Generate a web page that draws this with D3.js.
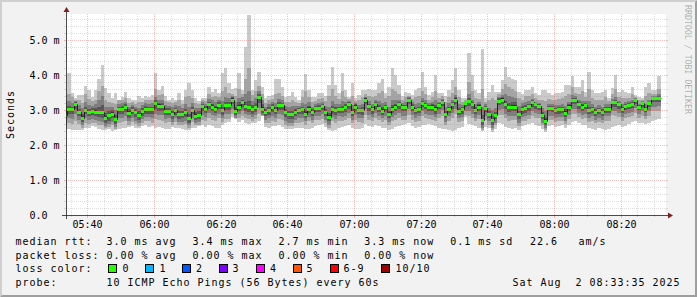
<!DOCTYPE html>
<html>
<head>
<meta charset="utf-8">
<script src="https://cdn.jsdelivr.net/npm/d3@7"></script>
<style>
html, body { margin: 0; padding: 0; background: #f2f2f2; }
svg { display: block; }
text { font-family: "DejaVu Sans Mono", monospace; fill: #000; }
</style>
</head>
<body>
<svg id="chart" width="697" height="297"></svg>
<script>
// median rtt per minute (ms), 05:33 .. 08:32
var med = [
2.86,3.02,3.02,3.16,2.93,2.78,3.00,2.94,2.98,2.95, 2.94,2.93,2.78,2.85,2.89,2.74,3.02,3.02,3.08,2.92,
3.00,2.93,2.85,2.97,3.03,3.03,3.02,3.20,3.12,3.12, 2.98,2.98,2.88,2.99,2.88,2.88,2.93,2.76,3.00,2.84,
2.86,3.11,3.04,3.16,3.10,3.04,3.15,2.99,3.14,3.14, 3.30,2.98,3.10,3.24,3.11,3.08,3.03,3.08,3.38,3.04,
2.95,3.00,3.08,3.00,3.13,3.13,2.94,2.88,2.88,2.95, 3.00,3.02,2.90,3.04,2.93,3.06,3.06,3.11,2.93,2.81,
3.03,3.00,3.03,3.04,3.08,3.16,2.94,3.10,3.00,3.00, 3.30,3.11,3.02,3.16,3.07,2.98,3.08,2.89,3.04,3.10,
3.16,3.08,3.08,3.29,3.10,3.00,3.03,3.21,3.14,3.10, 3.10,3.04,3.14,3.24,2.88,3.03,3.16,3.30,2.98,3.02,
3.19,3.26,3.16,3.00,3.10,2.71,3.07,2.89,2.71,2.85, 3.27,3.30,3.16,3.08,3.10,3.10,2.88,3.03,3.05,3.11,
3.22,3.16,3.12,2.85,2.69,3.07,3.07,3.00,3.02,3.04, 2.92,3.10,3.29,3.29,3.17,3.10,3.15,3.00,3.04,2.94,
3.00,2.94,3.04,3.04,3.22,3.22,3.16,3.04,3.12,3.15, 3.17,3.29,3.10,3.19,3.04,3.19,3.33,3.33,3.35,null];

// the 10 pings of each minute, sorted (p1 lowest .. p10 highest), ms
var p10 = [
3.43,4.07,3.48,3.33,3.43,3.43,3.69,3.57,3.38,3.57, 3.90,4.29,3.62,3.48,3.33,3.48,3.30,3.38,3.52,3.33,
3.30,3.29,3.40,3.33,3.40,3.36,3.43,4.05,3.57,3.69, 3.40,3.30,3.33,3.30,3.48,3.29,3.57,3.78,3.57,3.33,
3.27,3.33,3.33,3.67,3.52,3.60,3.48,4.05,4.19,3.76, 3.59,3.62,4.05,3.57,4.81,5.71,3.57,3.86,4.10,3.67,
3.33,3.40,3.43,3.90,3.90,3.65,3.36,3.40,3.52,3.36, 3.30,3.57,4.02,3.57,3.36,3.36,3.48,3.48,3.40,3.71,
4.24,3.71,3.50,4.05,3.57,3.38,3.76,3.33,3.43,3.57, 3.57,3.59,3.57,3.57,3.76,3.90,3.48,3.65,4.19,4.00,
3.71,3.40,3.52,3.48,3.43,3.57,3.62,4.10,3.67,3.43, 3.52,4.00,3.48,3.48,3.40,3.57,3.86,4.19,3.57,3.33,
3.33,4.62,4.00,3.57,3.48,4.73,3.33,3.52,3.71,3.52, 3.52,3.86,4.24,3.95,3.88,3.86,3.52,3.46,3.57,3.57,
3.67,3.48,3.43,3.57,3.57,3.48,3.43,3.48,3.48,3.52, 3.71,3.71,3.97,3.67,3.67,3.86,3.52,4.10,3.57,3.48,
3.48,3.52,3.57,3.33,3.62,4.00,3.52,3.57,3.52,3.48, 3.67,3.43,3.36,3.33,3.67,3.76,3.57,3.57,3.97,null];
var p9 = [
3.22,3.45,3.36,3.30,3.28,3.20,3.45,3.32,3.25,3.30, 3.55,3.70,3.30,3.22,3.20,3.18,3.28,3.30,3.34,3.20,
3.22,3.18,3.22,3.24,3.30,3.28,3.30,3.60,3.42,3.45, 3.26,3.22,3.20,3.22,3.30,3.18,3.36,3.40,3.35,3.20,
3.18,3.28,3.26,3.45,3.38,3.40,3.38,3.55,3.65,3.50, 3.45,3.40,3.60,3.45,3.90,4.20,3.42,3.55,3.70,3.45,
3.20,3.28,3.32,3.45,3.50,3.40,3.24,3.22,3.30,3.22, 3.20,3.38,3.55,3.38,3.22,3.25,3.32,3.35,3.26,3.40,
3.60,3.40,3.32,3.55,3.38,3.32,3.40,3.25,3.30,3.36, 3.45,3.40,3.36,3.40,3.50,3.55,3.35,3.40,3.60,3.55,
3.45,3.30,3.38,3.40,3.32,3.36,3.40,3.55,3.45,3.30, 3.36,3.55,3.35,3.40,3.22,3.36,3.50,3.65,3.36,3.24,
3.28,3.80,3.55,3.35,3.32,3.60,3.22,3.30,3.35,3.28, 3.45,3.60,3.75,3.65,3.60,3.55,3.35,3.30,3.40,3.40,
3.45,3.34,3.30,3.30,3.25,3.32,3.30,3.30,3.32,3.34, 3.40,3.45,3.65,3.50,3.45,3.55,3.38,3.60,3.35,3.28,
3.30,3.30,3.36,3.26,3.45,3.60,3.36,3.35,3.34,3.34, 3.45,3.38,3.28,3.30,3.40,3.50,3.45,3.45,3.60,null];
var p8 = [
3.08,3.25,3.20,3.26,3.15,3.05,3.22,3.15,3.12,3.16, 3.28,3.40,3.10,3.08,3.10,3.00,3.18,3.20,3.24,3.10,
3.14,3.08,3.06,3.15,3.20,3.18,3.20,3.38,3.28,3.30, 3.15,3.12,3.08,3.14,3.12,3.06,3.18,3.10,3.20,3.05,
3.06,3.22,3.18,3.32,3.28,3.24,3.30,3.25,3.38,3.35, 3.40,3.22,3.35,3.36,3.45,3.55,3.25,3.35,3.55,3.30,
3.10,3.16,3.22,3.20,3.32,3.28,3.12,3.08,3.12,3.12, 3.12,3.20,3.18,3.22,3.10,3.18,3.20,3.24,3.12,3.10,
3.25,3.18,3.16,3.25,3.24,3.26,3.15,3.20,3.14,3.18, 3.38,3.25,3.18,3.28,3.25,3.20,3.22,3.10,3.30,3.30,
3.30,3.20,3.22,3.36,3.22,3.16,3.20,3.35,3.28,3.20, 3.22,3.28,3.24,3.32,3.08,3.20,3.30,3.42,3.18,3.14,
3.24,3.45,3.30,3.16,3.22,3.10,3.16,3.06,3.00,3.05, 3.38,3.42,3.45,3.40,3.38,3.35,3.12,3.20,3.22,3.25,
3.32,3.24,3.20,3.05,2.98,3.18,3.18,3.14,3.15,3.16, 3.12,3.24,3.42,3.40,3.30,3.26,3.26,3.25,3.18,3.10,
3.14,3.08,3.18,3.16,3.32,3.36,3.26,3.18,3.22,3.26, 3.28,3.34,3.18,3.25,3.16,3.30,3.40,3.40,3.45,null];
var p7 = [
2.97,3.12,3.10,3.22,3.04,2.90,3.10,3.04,3.06,3.05, 3.08,3.15,2.92,2.98,3.00,2.86,3.10,3.12,3.16,3.02,
3.08,3.02,2.96,3.06,3.12,3.10,3.10,3.28,3.20,3.20, 3.06,3.05,2.97,3.07,2.98,2.96,3.04,2.88,3.10,2.94,
2.96,3.17,3.11,3.24,3.18,3.12,3.22,3.10,3.24,3.22, 3.36,3.10,3.22,3.30,3.24,3.25,3.14,3.20,3.46,3.16,
3.04,3.09,3.16,3.09,3.22,3.21,3.03,2.98,2.98,3.04, 3.07,3.10,3.00,3.12,3.02,3.12,3.13,3.18,3.02,2.92,
3.12,3.08,3.10,3.12,3.16,3.22,3.04,3.16,3.06,3.08, 3.35,3.18,3.10,3.22,3.14,3.08,3.15,2.98,3.14,3.18,
3.22,3.14,3.14,3.33,3.16,3.07,3.10,3.27,3.20,3.15, 3.16,3.13,3.19,3.29,2.97,3.10,3.23,3.36,3.06,3.08,
3.22,3.34,3.22,3.08,3.16,2.86,3.12,2.96,2.82,2.94, 3.33,3.37,3.26,3.20,3.22,3.22,2.98,3.12,3.14,3.18,
3.28,3.20,3.16,2.94,2.80,3.12,3.12,3.06,3.08,3.10, 3.02,3.16,3.35,3.34,3.22,3.16,3.20,3.10,3.10,3.02,
3.07,3.02,3.10,3.10,3.27,3.28,3.21,3.10,3.17,3.20, 3.22,3.32,3.14,3.22,3.09,3.24,3.37,3.37,3.40,null];
var p6 = [
2.90,3.06,3.05,3.19,2.97,2.82,3.04,2.98,3.01,2.99, 2.98,2.98,2.82,2.89,2.93,2.78,3.06,3.06,3.12,2.96,
3.04,2.97,2.89,3.01,3.07,3.06,3.05,3.24,3.16,3.15, 3.01,3.01,2.92,3.03,2.92,2.92,2.97,2.80,3.04,2.88,
2.90,3.14,3.07,3.19,3.13,3.08,3.18,3.03,3.18,3.18, 3.33,3.02,3.14,3.27,3.15,3.12,3.07,3.12,3.41,3.08,
2.98,3.04,3.12,3.04,3.17,3.17,2.98,2.92,2.92,2.99, 3.03,3.05,2.94,3.08,2.96,3.09,3.09,3.14,2.96,2.85,
3.07,3.04,3.06,3.07,3.12,3.19,2.98,3.13,3.03,3.04, 3.33,3.14,3.05,3.19,3.10,3.02,3.11,2.93,3.08,3.13,
3.19,3.11,3.11,3.31,3.12,3.03,3.06,3.24,3.17,3.12, 3.13,3.08,3.17,3.27,2.91,3.06,3.19,3.33,3.01,3.05,
3.21,3.29,3.19,3.03,3.13,2.75,3.10,2.92,2.75,2.88, 3.30,3.33,3.19,3.12,3.14,3.14,2.92,3.07,3.09,3.15,
3.25,3.19,3.15,2.88,2.73,3.10,3.10,3.03,3.05,3.07, 2.96,3.13,3.32,3.32,3.20,3.13,3.17,3.04,3.07,2.97,
3.03,2.97,3.07,3.07,3.25,3.25,3.19,3.07,3.15,3.18, 3.20,3.31,3.12,3.21,3.06,3.21,3.35,3.35,3.37,null];
var p5 = [
2.83,2.99,2.99,3.13,2.90,2.75,2.97,2.91,2.95,2.92, 2.90,2.89,2.74,2.81,2.85,2.70,2.98,2.98,3.04,2.88,
2.96,2.89,2.81,2.93,2.99,2.99,2.98,3.16,3.08,3.08, 2.95,2.95,2.84,2.95,2.84,2.84,2.89,2.72,2.96,2.80,
2.82,3.08,3.01,3.13,3.07,3.00,3.12,2.95,3.10,3.10, 3.27,2.94,3.06,3.21,3.07,3.04,2.99,3.04,3.35,3.00,
2.92,2.96,3.04,2.96,3.09,3.09,2.90,2.84,2.84,2.91, 2.97,2.99,2.86,3.00,2.90,3.03,3.03,3.08,2.90,2.77,
2.99,2.96,3.00,3.01,3.04,3.13,2.90,3.07,2.97,2.96, 3.27,3.08,2.99,3.13,3.04,2.94,3.05,2.85,3.00,3.07,
3.13,3.05,3.05,3.27,3.08,2.97,3.00,3.18,3.11,3.08, 3.07,3.00,3.11,3.21,2.85,3.00,3.13,3.27,2.95,2.99,
3.17,3.23,3.13,2.97,3.07,2.67,3.04,2.86,2.67,2.82, 3.24,3.27,3.13,3.04,3.06,3.06,2.84,2.99,3.01,3.07,
3.19,3.13,3.09,2.82,2.65,3.04,3.04,2.97,2.99,3.01, 2.88,3.07,3.26,3.26,3.14,3.07,3.11,2.96,3.01,2.91,
2.97,2.91,3.01,3.01,3.19,3.19,3.13,3.01,3.09,3.12, 3.14,3.27,3.08,3.17,3.02,3.17,3.31,3.31,3.33,null];
var p4 = [
2.74,2.90,2.88,3.02,2.82,2.66,2.88,2.82,2.86,2.83, 2.80,2.78,2.64,2.70,2.76,2.60,2.88,2.90,2.94,2.78,
2.88,2.80,2.72,2.84,2.90,2.90,2.88,3.04,2.98,2.98, 2.86,2.86,2.75,2.86,2.75,2.76,2.80,2.64,2.88,2.72,
2.74,2.98,2.92,3.04,2.98,2.92,3.02,2.86,3.00,3.00, 3.16,2.86,2.98,3.10,2.98,2.95,2.90,2.95,3.20,2.92,
2.83,2.87,2.95,2.88,3.00,2.99,2.80,2.74,2.74,2.82, 2.88,2.90,2.78,2.92,2.82,2.94,2.95,3.00,2.82,2.68,
2.90,2.86,2.92,2.92,2.95,3.04,2.82,2.98,2.88,2.87, 3.16,2.98,2.90,3.04,2.95,2.86,2.96,2.76,2.92,2.98,
3.04,2.96,2.96,3.16,2.98,2.88,2.92,3.08,3.02,2.98, 2.98,2.90,3.02,3.12,2.76,2.92,3.04,3.16,2.86,2.90,
3.08,3.12,3.02,2.88,2.98,2.58,2.95,2.78,2.58,2.74, 3.14,3.16,3.02,2.94,2.96,2.96,2.74,2.90,2.92,2.98,
3.10,3.04,3.00,2.74,2.56,2.96,2.95,2.88,2.90,2.92, 2.80,2.98,3.16,3.16,3.04,2.98,3.02,2.88,2.92,2.82,
2.88,2.82,2.92,2.92,3.10,3.10,3.04,2.92,3.00,3.04, 3.05,3.18,3.00,3.08,2.94,3.08,3.22,3.22,3.24,null];
var p3 = [
2.64,2.78,2.75,2.88,2.72,2.58,2.76,2.71,2.74,2.72, 2.68,2.66,2.55,2.60,2.66,2.52,2.76,2.78,2.82,2.68,
2.78,2.70,2.63,2.74,2.80,2.80,2.76,2.90,2.86,2.85, 2.75,2.76,2.66,2.76,2.66,2.66,2.70,2.56,2.78,2.63,
2.66,2.86,2.80,2.92,2.86,2.82,2.90,2.76,2.88,2.88, 3.02,2.78,2.88,2.98,2.88,2.85,2.80,2.85,3.05,2.86,
2.72,2.76,2.84,2.77,2.88,2.86,2.68,2.64,2.63,2.72, 2.76,2.78,2.68,2.80,2.72,2.84,2.84,2.88,2.72,2.58,
2.80,2.74,2.82,2.80,2.84,2.92,2.72,2.86,2.78,2.76, 3.02,2.86,2.80,2.92,2.84,2.76,2.84,2.66,2.80,2.86,
2.92,2.84,2.84,3.02,2.86,2.78,2.82,2.96,2.90,2.86, 2.86,2.80,2.90,3.00,2.66,2.82,2.92,3.02,2.76,2.80,
2.96,2.98,2.90,2.78,2.86,2.50,2.84,2.68,2.50,2.64, 3.00,3.02,2.90,2.82,2.84,2.84,2.64,2.80,2.82,2.86,
2.98,2.92,2.88,2.64,2.48,2.84,2.84,2.78,2.80,2.80, 2.70,2.86,3.02,3.04,2.92,2.86,2.90,2.78,2.82,2.72,
2.78,2.72,2.82,2.82,2.98,2.98,2.92,2.80,2.88,2.92, 2.94,3.06,2.90,2.96,2.84,2.96,3.10,3.10,3.12,null];
var p2 = [
2.55,2.62,2.60,2.70,2.60,2.50,2.64,2.60,2.63,2.62, 2.58,2.56,2.48,2.52,2.56,2.46,2.64,2.66,2.70,2.58,
2.66,2.60,2.55,2.64,2.70,2.68,2.64,2.75,2.72,2.70, 2.64,2.65,2.58,2.65,2.58,2.56,2.60,2.49,2.66,2.56,
2.58,2.72,2.68,2.76,2.72,2.70,2.76,2.66,2.74,2.74, 2.88,2.76,2.76,2.84,2.76,2.74,2.70,2.75,2.90,2.84,
2.62,2.64,2.70,2.66,2.74,2.72,2.58,2.54,2.54,2.62, 2.64,2.66,2.58,2.68,2.62,2.72,2.72,2.74,2.62,2.50,
2.68,2.62,2.70,2.68,2.72,2.78,2.62,2.72,2.66,2.64, 2.86,2.72,2.68,2.78,2.72,2.66,2.72,2.56,2.68,2.72,
2.78,2.72,2.72,2.86,2.72,2.66,2.70,2.82,2.76,2.74, 2.72,2.70,2.76,2.84,2.58,2.70,2.78,2.88,2.66,2.68,
2.86,2.84,2.78,2.68,2.74,2.44,2.72,2.58,2.44,2.56, 2.86,2.86,2.76,2.70,2.72,2.72,2.54,2.68,2.70,2.74,
2.84,2.78,2.76,2.56,2.42,2.72,2.72,2.66,2.68,2.68, 2.60,2.74,2.88,2.90,2.80,2.74,2.78,2.66,2.70,2.62,
2.66,2.62,2.70,2.70,2.86,2.84,2.80,2.68,2.76,2.80, 2.82,2.92,2.78,2.84,2.74,2.84,2.96,2.96,2.98,null];
var p1 = [
2.47,2.45,2.43,2.44,2.43,2.42,2.50,2.48,2.55,2.52, 2.47,2.44,2.42,2.45,2.41,2.43,2.46,2.48,2.50,2.52,
2.55,2.50,2.48,2.53,2.56,2.52,2.55,2.50,2.52,2.48, 2.45,2.47,2.52,2.50,2.49,2.46,2.43,2.42,2.50,2.50,
2.54,2.57,2.52,2.56,2.55,2.48,2.50,2.58,2.62,2.65, 2.80,2.75,2.66,2.72,2.62,2.60,2.63,2.63,2.70,2.82,
2.52,2.50,2.55,2.53,2.56,2.52,2.47,2.45,2.47,2.50, 2.50,2.48,2.45,2.46,2.49,2.55,2.56,2.60,2.52,2.43,
2.40,2.42,2.50,2.52,2.55,2.58,2.50,2.46,2.45,2.48, 2.60,2.55,2.52,2.58,2.55,2.50,2.48,2.42,2.45,2.52,
2.55,2.58,2.60,2.62,2.55,2.50,2.52,2.56,2.58,2.60, 2.58,2.55,2.48,2.46,2.45,2.42,2.40,2.42,2.50,2.52,
2.80,2.60,2.58,2.55,2.50,2.40,2.52,2.48,2.38,2.46, 2.62,2.60,2.52,2.48,2.45,2.50,2.42,2.55,2.58,2.60,
2.62,2.58,2.55,2.46,2.38,2.55,2.58,2.52,2.55,2.56, 2.50,2.58,2.65,2.70,2.62,2.58,2.56,2.50,2.45,2.44,
2.48,2.45,2.42,2.45,2.52,2.55,2.58,2.52,2.55,2.60, 2.65,2.70,2.62,2.62,2.60,2.62,2.70,2.72,2.75,null];

var yTicks = [0, 1, 2, 3, 4, 5];
var lossLabels = ["0", "1", "2", "3", "4", "5", "6-9", "10/10"];
var lossColors = ["#26ff00", "#00b8ff", "#0059ff", "#7e00ff", "#ff00ff", "#ff5500", "#ff0000", "#a00000"];
var rttStats = ["3.0 ms avg", "3.4 ms max", "2.7 ms min", "3.3 ms now", "0.1 ms sd"];
var lossStats = ["0.00 % avg", "0.00 % max", "0.00 % min", "0.00 % now"];
var amsValue = "22.6";
var probeText = "10 ICMP Echo Pings (56 Bytes) every 60s";
var stampText = "Sat Aug  2 08:33:35 2025";

var firstStep = new Date(2025, 7, 2, 5, 33, 0);
var tStart = new Date(2025, 7, 2, 5, 33, 35);
var tEnd = new Date(2025, 7, 2, 8, 33, 35);
var yMax = 5.743;

var W = 697, H = 297;
var X0 = 66, X1 = 666, Y0 = 215, Y1 = 14;

var svg = d3.select("#chart");
var x = d3.scaleTime().domain([tStart, tEnd]).range([X0, X1]);
var y = d3.scaleLinear().domain([0, yMax]).range([Y0, Y1]);

// background + 3d frame
svg.append("rect").attr("width", W).attr("height", H).attr("fill", "#f2f2f2");
svg.append("polygon").attr("points", [[0,H],[2,H-2],[2,2],[W-2,2],[W,0],[0,0]].join(" ")).attr("fill", "#cfcfcf");
svg.append("polygon").attr("points", [[2,H-2],[W-2,H-2],[W-2,2],[W,0],[W,H],[0,H]].join(" ")).attr("fill", "#9e9e9e");
svg.append("rect").attr("x", X0).attr("y", Y1).attr("width", X1 - X0).attr("height", Y0 - Y1).attr("fill", "#fff");

svg.append("clipPath").attr("id", "plotclip").append("rect")
  .attr("x", X0).attr("y", Y1).attr("width", X1 - X0).attr("height", Y0 - Y1);
var plot = svg.append("g").attr("clip-path", "url(#plotclip)");

// expand every minute into a flat step
function steps(lo, hi) {
  var pts = [];
  for (var i = 0; i < med.length; i++) {
    var ok = lo[i] != null && hi[i] != null;
    var ta = d3.timeMinute.offset(firstStep, i), tb = d3.timeMinute.offset(firstStep, i + 1);
    pts.push({t: ta, lo: lo[i], hi: hi[i], ok: ok});
    pts.push({t: tb, lo: lo[i], hi: hi[i], ok: ok});
  }
  return pts;
}

var band = d3.area().defined(function(d){ return d.ok; })
  .x(function(d){ return Math.round(x(d.t)); })
  .y0(function(d){ return Math.round(y(d.lo)); })
  .y1(function(d){ return Math.round(y(d.hi)); });

// smoke: outer pair lightest, inner pair darkest
var lows = [p1, p2, p3, p4, p5], highs = [p10, p9, p8, p7, p6];
var greys = ["#cacaca", "#a4a4a4", "#7e7e7e", "#585858", "#323232"];
lows.forEach(function(lo, k) {
  plot.append("path").datum(steps(lo, highs[k]))
    .attr("d", band).attr("fill", greys[k]).attr("shape-rendering", "crispEdges");
});

// median line
var medLine = d3.line().defined(function(d){ return d.ok; })
  .x(function(d){ return Math.round(x(d.t)) + 0.5; })
  .y(function(d){ return Math.round(y(d.lo)) + 0.5; });
plot.append("path").datum(steps(med, med)).attr("d", medLine)
  .attr("fill", "none").attr("stroke", "#202020").attr("stroke-width", 1);

// loss-coloured median band (no loss -> colour 0)
var medBand = d3.area().defined(function(d){ return d.ok; })
  .x(function(d){ return Math.round(x(d.t)); })
  .y0(function(d){ return Math.round(y(d.lo)) + 2; })
  .y1(function(d){ return Math.round(y(d.hi)) - 1; });
plot.append("path").datum(steps(med, med)).attr("d", medBand)
  .attr("fill", lossColors[0]).attr("shape-rendering", "crispEdges");

// grid
var gridMinor = "rgba(143,143,143,0.75)", gridMajor = "rgba(222,79,79,0.6)";
var g = svg.append("g");
var minorY = d3.range(1, 29).map(function(i){ return i * 0.2; }).filter(function(v){ return Math.abs(v - Math.round(v)) > 0.01; });
minorY.forEach(function(v) {
  var py = Math.round(y(v)) + 0.5;
  g.append("line").attr("x1", X0).attr("x2", X1).attr("y1", py).attr("y2", py)
    .attr("stroke", gridMinor).attr("stroke-width", 0.4).attr("stroke-dasharray", "1,1");
  g.append("line").attr("x1", X0 - 2).attr("x2", X0).attr("y1", py).attr("y2", py).attr("stroke", gridMinor).attr("stroke-width", 0.4);
  g.append("line").attr("x1", X1).attr("x2", X1 + 2).attr("y1", py).attr("y2", py).attr("stroke", gridMinor).attr("stroke-width", 0.4);
});
var minorX = d3.timeMinute.every(5).range(tStart, tEnd).filter(function(t){ return t.getMinutes() % 20 !== 0; });
minorX.forEach(function(t) {
  var px = Math.round(x(t)) + 0.5;
  g.append("line").attr("x1", px).attr("x2", px).attr("y1", Y0).attr("y2", Y1)
    .attr("stroke", gridMinor).attr("stroke-width", 0.4).attr("stroke-dasharray", "1,1");
  g.append("line").attr("x1", px).attr("x2", px).attr("y1", Y0).attr("y2", Y0 + 2).attr("stroke", gridMinor).attr("stroke-width", 0.4);
});
yTicks.filter(function(v){ return v > 0; }).forEach(function(v) {
  var py = Math.round(y(v)) + 0.5;
  g.append("line").attr("x1", X0).attr("x2", X1).attr("y1", py).attr("y2", py)
    .attr("stroke", gridMajor).attr("stroke-width", 0.6).attr("stroke-dasharray", "1,1");
  g.append("line").attr("x1", X0 - 2).attr("x2", X0).attr("y1", py).attr("y2", py).attr("stroke", gridMajor).attr("stroke-width", 0.6);
  g.append("line").attr("x1", X1).attr("x2", X1 + 2).attr("y1", py).attr("y2", py).attr("stroke", gridMajor).attr("stroke-width", 0.6);
});
var majorX = d3.timeMinute.every(20).range(tStart, tEnd);
majorX.forEach(function(t) {
  var px = Math.round(x(t)) + 0.5;
  g.append("line").attr("x1", px).attr("x2", px).attr("y1", Y0).attr("y2", Y1)
    .attr("stroke", gridMajor).attr("stroke-width", 0.6).attr("stroke-dasharray", "1,1");
  g.append("line").attr("x1", px).attr("x2", px).attr("y1", Y0).attr("y2", Y0 + 3).attr("stroke", gridMajor).attr("stroke-width", 0.6);
});

// axes + arrows
svg.append("line").attr("x1", X0 - 4).attr("x2", X1 + 4).attr("y1", Y0 + 0.5).attr("y2", Y0 + 0.5)
  .attr("stroke", "#1f1f1f").attr("stroke-width", 0.8);
svg.append("line").attr("x1", X0 + 0.5).attr("x2", X0 + 0.5).attr("y1", Y0 + 4).attr("y2", Y1 - 4)
  .attr("stroke", "#1f1f1f").attr("stroke-width", 0.8);
svg.append("polygon").attr("points", [[X1 + 2, Y0 - 2.5],[X1 + 2, Y0 + 3.5],[X1 + 7, Y0 + 0.5]].join(" ")).attr("fill", "#801f1f");
svg.append("polygon").attr("points", [[X0 - 2.5, Y1 - 2],[X0 + 3.5, Y1 - 2],[X0 + 0.5, Y1 - 7]].join(" ")).attr("fill", "#801f1f");

// axis labels
svg.selectAll("text.ylab").data(yTicks).enter().append("text").attr("class", "ylab")
  .attr("x", 29.5).attr("y", function(v){ return Math.round(y(v)) + 3.5; })
  .style("font-size", "10px")
  .text(function(v){ return v === 0 ? "0.0" : v.toFixed(1) + " m"; });
svg.selectAll("text.xlab").data(majorX).enter().append("text").attr("class", "xlab")
  .attr("x", function(t){ return Math.round(x(t)) + 0.5; }).attr("y", 228)
  .attr("text-anchor", "middle").style("font-size", "10px")
  .text(d3.timeFormat("%H:%M"));

svg.append("text").attr("transform", "translate(13.5," + ((Y0 + Y1) / 2) + ") rotate(-90)")
  .attr("text-anchor", "middle").style("font-size", "10px").style("letter-spacing", "0.98px")
  .text("Seconds");
svg.append("text").attr("transform", "translate(685,5) rotate(90)")
  .style("font-size", "8.5px").style("letter-spacing", "-0.17px").style("fill", "rgba(0,0,0,0.3)")
  .text("RRDTOOL / TOBI OETIKER");

// legend
var rows = [245, 258.7, 272.4, 286];
var cols = [106.6, 192.6, 278.6, 364.3, 450.3];
function legText(tx, ty, s) {
  return svg.append("text").attr("x", tx).attr("y", ty)
    .style("font-size", "10px").style("letter-spacing", "0.98px").style("white-space", "pre").text(s);
}
legText(15.4, rows[0], "median rtt:");
rttStats.forEach(function(s, i){ legText(cols[i], rows[0], s); });
legText(530, rows[0], amsValue);
legText(578.4, rows[0], "am/s");
legText(15.4, rows[1], "packet loss:");
lossStats.forEach(function(s, i){ legText(cols[i], rows[1], s); });
legText(15.4, rows[2], "loss color:");
var boxX = [108, 145, 182, 219, 256, 293, 330, 381];
var labX = [122.6, 159.4, 196, 232.6, 270, 306.6, 343.6, 395.4];
lossLabels.forEach(function(s, i) {
  svg.append("rect").attr("x", boxX[i] + 0.5).attr("y", 264.5).attr("width", 8).attr("height", 8)
    .attr("fill", lossColors[i]).attr("stroke", "#000").attr("stroke-width", 1);
  legText(labX[i], rows[2], s);
});
legText(15.4, rows[3], "probe:");
legText(cols[0], rows[3], probeText);
legText(512.6, rows[3], stampText);
</script>
</body>
</html>
